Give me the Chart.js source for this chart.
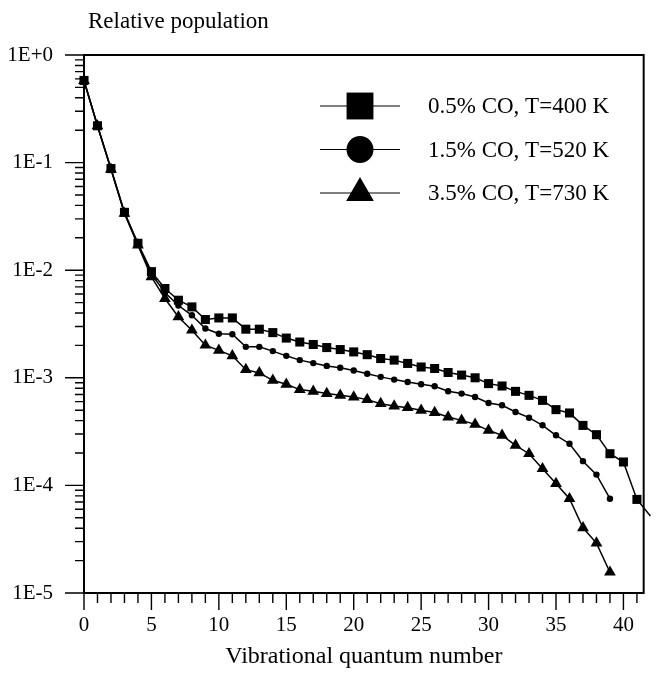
<!DOCTYPE html>
<html>
<head>
<meta charset="utf-8">
<script src="https://cdn.jsdelivr.net/npm/chart.js@4.4.0/dist/chart.umd.min.js"></script>
<style>
  html, body { margin: 0; padding: 0; background: #fff; }
</style>
</head>
<body>
<canvas id="chart" width="657" height="679"></canvas>
<script>
// vibrational level v = 0..42
const levels = Array.from({ length: 43 }, (_, i) => i)

// relative population
const pop400 = [0.58, 0.22, 0.088, 0.0345, 0.0178, 0.0097, 0.00676, 0.00526, 0.00456, 0.00348,
  0.0036, 0.0036, 0.00283, 0.00283, 0.00263, 0.00234, 0.00215, 0.00204, 0.00191, 0.00183,
  0.00174, 0.00164, 0.00151, 0.00146, 0.00136, 0.00126, 0.00122, 0.00112, 0.00106, 0.001,
  0.000883, 0.000839, 0.000748, 0.000687, 0.000617, 0.000506, 0.000471, 0.000361, 0.000296, 0.000197,
  0.000165, 0.0000741, 0.000052]
const pop520 = [0.58, 0.22, 0.087, 0.034, 0.0173, 0.0092, 0.0062, 0.0047, 0.00381, 0.00287,
  0.00257, 0.00254, 0.00194, 0.00194, 0.00177, 0.0016, 0.00146, 0.00137, 0.00129, 0.00124,
  0.00117, 0.00109, 0.00102, 0.000962, 0.000914, 0.00087, 0.000834, 0.000749, 0.000713, 0.000663,
  0.000583, 0.000555, 0.000481, 0.000426, 0.000362, 0.000292, 0.000244, 0.000168, 0.000126, 0.0000752]
const pop730 = [0.577, 0.219, 0.0865, 0.0337, 0.0171, 0.00866, 0.00545, 0.00368, 0.00277, 0.00201,
  0.0018, 0.0016, 0.00119, 0.00111, 0.000948, 0.00087, 0.000777, 0.000749, 0.000713, 0.000687,
  0.000663, 0.000627, 0.000575, 0.000547, 0.000528, 0.000499, 0.000475, 0.000432, 0.000402, 0.000369,
  0.000325, 0.000292, 0.000236, 0.000197, 0.000143, 0.000104, 0.0000752, 0.0000404, 0.0000291, 0.0000156]

const seriesLabels = ["0.5% CO, T=400 K", "1.5% CO, T=520 K", "3.5% CO, T=730 K"]
const decadeLabels = ["1E-5", "1E-4", "1E-3", "1E-2", "1E-1", "1E+0"]
const xLabelStep = 5

const ink = "#000"
const serif = "'Liberation Serif', 'DejaVu Serif', serif"

const toPoints = (vals) => vals.map((v, i) => ({ x: levels[i], y: v }))

const dataset = (label, vals, style, radius) => ({
  label,
  data: toPoints(vals),
  pointStyle: style,
  pointRadius: radius,
  pointHoverRadius: radius,
  pointBackgroundColor: ink,
  pointBorderWidth: 0,
  borderColor: ink,
  borderWidth: 1.5,
  tension: 0,
  clip: false
})

// axis frame plus outward tick marks like the original plot
const frame = {
  id: "frame",
  afterDraw(chart) {
    const { ctx, chartArea: a, scales: { x, y } } = chart
    ctx.save()
    ctx.strokeStyle = ink
    ctx.lineWidth = 2
    ctx.strokeRect(a.left, a.top, a.right - a.left, a.bottom - a.top)
    ctx.lineWidth = 1.4
    ctx.beginPath()
    x.ticks.forEach(t => {
      const px = x.getPixelForValue(t.value)
      const len = t.value % xLabelStep === 0 ? 17 : 10
      ctx.moveTo(px, a.bottom)
      ctx.lineTo(px, a.bottom + len)
    })
    y.ticks.forEach(t => {
      const py = y.getPixelForValue(t.value)
      const e = Math.log10(t.value)
      const len = Math.abs(e - Math.round(e)) < 1e-6 ? 19 : 9
      ctx.moveTo(a.left, py)
      ctx.lineTo(a.left - len, py)
    })
    ctx.stroke()

    ctx.fillStyle = ink
    ctx.font = "23px " + serif
    ctx.textBaseline = "middle"
    ctx.textAlign = "left"
    ctx.fillText("Relative population", a.left + 4, 22)
    ctx.restore()
  }
}

// legend drawn inside the plot: line, big marker, label
const insideLegend = {
  id: "insideLegend",
  afterDraw(chart) {
    const { ctx, chartArea: a } = chart
    const sizes = [19, 13.5, 16]
    ctx.save()
    ctx.strokeStyle = ink
    ctx.fillStyle = ink
    ctx.font = "23px " + serif
    ctx.textBaseline = "middle"
    chart.data.datasets.forEach((ds, i) => {
      const cy = a.top + 51 + i * 43.5
      const lx = a.left + 236
      ctx.lineWidth = 1.2
      ctx.beginPath()
      ctx.moveTo(lx, cy)
      ctx.lineTo(lx + 80, cy)
      ctx.stroke()
      Chart.helpers.drawPoint(ctx, { pointStyle: ds.pointStyle, radius: sizes[i], rotation: 0, borderWidth: 0 }, lx + 40, cy)
      ctx.fillText(ds.label, a.left + 344, cy + 1)
    })
    ctx.restore()
  }
}

new Chart(document.getElementById("chart"), {
  type: "line",
  data: {
    datasets: [
      dataset(seriesLabels[0], pop400, "rect", 6.4),
      dataset(seriesLabels[1], pop520, "circle", 3.2),
      dataset(seriesLabels[2], pop730, "triangle", 6.8)
    ]
  },
  options: {
    responsive: false,
    animation: false,
    devicePixelRatio: 1,
    layout: { padding: { top: 55, right: 5, left: 0, bottom: 0 } },
    plugins: {
      legend: { display: false },
      tooltip: { enabled: false }
    },
    scales: {
      x: {
        type: "linear",
        min: 0,
        max: 41.5,
        afterFit: (s) => { s.height = 86 },
        afterBuildTicks: (s) => {
          s.ticks = levels.filter(v => v <= s.max).map(v => ({ value: v }))
        },
        grid: { display: false, drawTicks: false },
        border: { display: false },
        ticks: {
          autoSkip: false,
          maxRotation: 0,
          padding: 20,
          color: ink,
          font: { family: serif, size: 21 },
          callback: (v) => (v % xLabelStep === 0 ? String(v) : "")
        },
        title: {
          display: true,
          text: "Vibrational quantum number",
          color: ink,
          font: { family: serif, size: 24 },
          padding: { top: 0, bottom: 8 }
        }
      },
      y: {
        type: "logarithmic",
        min: 1e-5,
        max: 1,
        afterFit: (s) => { s.width = 84 },
        afterBuildTicks: (s) => {
          const t = []
          for (let e = -5; e <= 0; e++) {
            for (let m = 1; m <= 9; m++) {
              const v = m * Math.pow(10, e)
              if (v <= 1.0000001) t.push({ value: v })
            }
          }
          s.ticks = t
        },
        grid: { display: false, drawTicks: false },
        border: { display: false },
        ticks: {
          autoSkip: false,
          padding: 31,
          color: ink,
          font: { family: serif, size: 21 },
          callback: (v) => {
            const e = Math.round(Math.log10(v))
            return Math.abs(v / Math.pow(10, e) - 1) < 1e-6 ? decadeLabels[e + 5] : ""
          }
        }
      }
    }
  },
  plugins: [frame, insideLegend]
})
</script>
</body>
</html>
